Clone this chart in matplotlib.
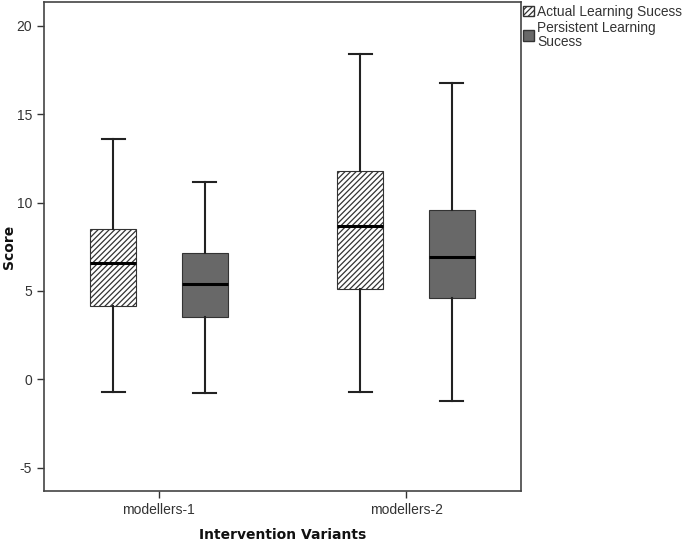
import matplotlib
matplotlib.use("Agg")
import matplotlib.pyplot as plt
from matplotlib.patches import Patch

plt.rcParams['font.family'] = ['Liberation Sans', 'DejaVu Sans']
plt.rcParams['axes.unicode_minus'] = False
plt.rcParams['hatch.linewidth'] = 0.9
plt.rcParams['hatch.color'] = '#333333'

groups = ['modellers-1', 'modellers-2']
series = ['Actual Learning Sucess', 'Persistent Learning\nSucess']
# five number summaries per series: [whislo, q1, med, q3, whishi] per group
actual = [[-0.70, 4.17, 6.58, 8.49, 13.6], [-0.74, 5.09, 8.68, 11.79, 18.38]]
persistent = [[-0.78, 3.51, 5.39, 7.13, 11.18], [-1.21, 4.62, 6.90, 9.58, 16.79]]
yticks = [-5, 0, 5, 10, 15, 20]

def stats(rows):
    out = []
    for lo, q1, med, q3, hi in rows:
        out.append(dict(whislo=lo, q1=q1, med=med, q3=q3, whishi=hi, fliers=[]))
    return out

fig = plt.figure(figsize=(6.85, 5.42), dpi=100)
ax = fig.add_axes([0.0642, 0.0941, 0.6964, 0.9022])

off = 0.185
w = 0.186
hatch = '//////'
common = dict(widths=w, patch_artist=True, showfliers=False,
              whiskerprops=dict(color='#222222', lw=1.5),
              capprops=dict(color='#222222', lw=1.5),
              medianprops=dict(color='black', lw=2.2))
b1 = ax.bxp(stats(actual), positions=[i - off for i in range(len(groups))], **common)
for p in b1['boxes']:
    p.set_facecolor('white'); p.set_hatch(hatch); p.set_edgecolor('#333333'); p.set_linewidth(0.8)
b2 = ax.bxp(stats(persistent), positions=[i + off for i in range(len(groups))], **common)
for p in b2['boxes']:
    p.set_facecolor('#686868'); p.set_edgecolor('#333333'); p.set_linewidth(0.8)

ax.set_xlim(-0.465, 1.465)
ax.set_ylim(-6.32, 21.35)
ax.set_xticks(range(len(groups)))
ax.set_xticklabels(groups)
ax.set_yticks(yticks)
ax.tick_params(colors='#333333', labelsize=10, length=5, width=1)
for s in ax.spines.values():
    s.set_color('#444444'); s.set_linewidth(1.2)
lab = dict(fontsize=10, fontweight='bold', family='DejaVu Sans', color='#111111')
ax.set_ylabel('Score', **lab)
ax.yaxis.set_label_coords(-0.058, 0.5)
ax.set_xlabel('Intervention Variants', labelpad=8, **lab)

handles = [Patch(facecolor='white', edgecolor='#333333', hatch=hatch, label=series[0]),
           Patch(facecolor='#686868', edgecolor='#333333', label=series[1])]
leg = ax.legend(handles=handles, loc='upper left', bbox_to_anchor=(0.998, 1.0),
                frameon=False, fontsize=9.9, handlelength=0.85, handleheight=0.85,
                handletextpad=0.2, borderaxespad=0.0, borderpad=0.2, labelspacing=0.15)
for t in leg.get_texts():
    t.set_color('#333333')
    t.set_linespacing(1.05)

fig.savefig('out.png', dpi=100)
